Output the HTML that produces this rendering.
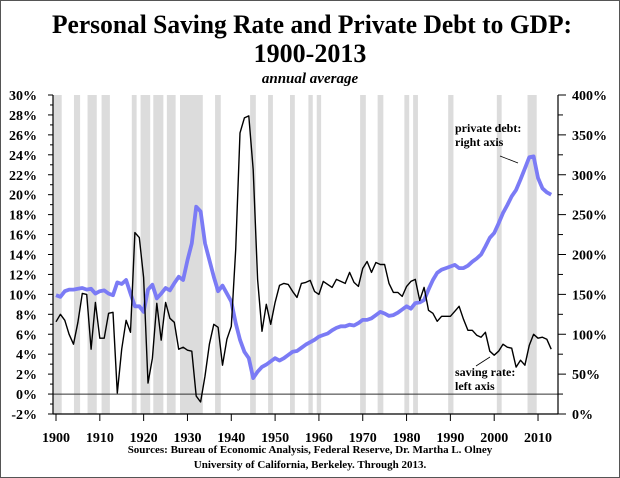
<!DOCTYPE html>
<html><head><meta charset="utf-8"><style>
body{margin:0;background:#fff}
#wrap{position:relative;width:620px;height:478px;overflow:hidden}
svg text{font-family:"Liberation Serif",serif;font-weight:bold}
</style></head><body>
<div id="wrap">
<svg id="c" width="620" height="478" viewBox="0 0 620 478">
<rect x="0.5" y="0.5" width="619" height="477" fill="#fff" stroke="#555"/>
<text x="312" y="33" text-anchor="middle" font-size="26" textLength="520" lengthAdjust="spacingAndGlyphs">Personal Saving Rate and Private Debt to GDP:</text>
<text x="310" y="62" text-anchor="middle" font-size="26">1900-2013</text>
<text x="310" y="83" text-anchor="middle" font-size="15" font-style="italic">annual average</text>
<g id="bars"></g><g id="axes"></g><g id="lines"></g>
<text x="455" y="132" font-size="12">private debt:</text>
<text x="455" y="146" font-size="12">right axis</text>
<line x1="500" y1="156" x2="518" y2="163" stroke="#000" stroke-width="0.8"/>
<text x="455" y="376" font-size="12">saving rate:</text>
<text x="455" y="390" font-size="12">left axis</text>
<line x1="476" y1="366" x2="490" y2="357" stroke="#000" stroke-width="0.8"/>
<text x="310" y="453" text-anchor="middle" font-size="11">Sources: Bureau of Economic Analysis, Federal Reserve, Dr. Martha L. Olney</text>
<text x="310" y="468" text-anchor="middle" font-size="11">University of California, Berkeley. Through 2013.</text>
</svg></div>
<script>
const years=[];for(let y=1900;y<=2013;y++)years.push(y);
const savingRate=[7.25,8.0,7.4,6.0,5.0,7.2,10.1,10.0,4.5,9.2,5.6,5.6,8.1,8.2,0.1,4.5,7.4,6.2,16.2,15.7,11.7,1.1,3.6,9.1,5.4,9.2,7.6,7.2,4.5,4.7,4.4,4.3,-0.2,-0.8,1.8,5.0,7.0,6.7,2.9,5.5,6.8,14.5,26.2,27.7,27.9,22.5,11.5,6.3,9.0,7.0,9.2,10.9,11.1,11.0,10.3,9.7,11.1,11.2,11.4,10.3,10.0,11.3,11.0,10.7,11.5,11.3,11.1,12.2,11.2,10.8,12.6,13.3,12.2,13.2,13.0,13.0,11.1,10.2,10.2,9.8,10.8,11.3,11.5,9.4,10.7,8.4,8.1,7.3,7.8,7.8,7.8,8.3,8.8,7.5,6.4,6.4,5.9,5.7,6.2,4.3,3.9,4.3,5.0,4.7,4.6,2.7,3.4,2.9,4.9,6.0,5.6,5.7,5.5,4.5];
const debtToGdp=[149,147,154,156,156,157,158,156,157,151,154,155,151,149,165,163,168,151,135,135,128,156,162,145,151,158,155,164,172,168,193,214,260,254,214,193,172,154,161,151,141,114,93,78,70,45,53,59,62,66,70,67,70,74,78,79,83,87,90,93,97,99,101,105,108,110,110,112,111,114,118,118,120,124,128,126,123,124,127,131,135,132,139,140,143,156,168,177,181,183,185,187,183,183,186,191,195,200,210,221,227,239,252,262,273,281,294,308,322,323,296,283,278,275];
const recStart=[1899.4,1904.1,1907.2,1910.4,1917.3,1919.3,1922.2,1925.3,1928.3,1936.3,1944.3,1948.4,1953.4,1957.6,1959.5,1969.4,1973.4,1979.5,1981.5,1989.5,2000.6,2007.6];
const recEnd=[1901.3,1905.5,1909.3,1912.3,1918.4,1921.5,1924.5,1927.3,1933.5,1937.6,1945.6,1949.5,1954.5,1958.6,1960.5,1970.7,1974.7,1980.6,1982.6,1990.7,2001.7,2009.7];
const leftTicks=[-2,0,2,4,6,8,10,12,14,16,18,20,22,24,26,28,30];
const rightTicks=[0,50,100,150,200,250,300,350,400];
const xTicks=[1900,1910,1920,1930,1940,1950,1960,1970,1980,1990,2000,2010];
const L=53,R=558,T=95,B=414;
const xs=y=>56+(y-1900)*4.382;
const yl=v=>B-(v+2)*(B-T)/32;
const yr=v=>B-v*(B-T)/400;
const NS='http://www.w3.org/2000/svg';
function mk(p,tag,a){const e=document.createElementNS(NS,tag);for(const k in a)e.setAttribute(k,a[k]);p.appendChild(e);return e;}
const bars=document.getElementById('bars'),ax=document.getElementById('axes'),ln=document.getElementById('lines');
recStart.forEach((s,i)=>{const x0=Math.max(L,xs(s));
 const r=mk(bars,'rect',{x:x0,y:T,width:xs(recEnd[i])-x0,height:B-T,fill:'#dcdcdc'});
 
 });
let e=mk(ax,'line',{x1:L,y1:yl(0),x2:R,y2:yl(0),stroke:'#333','stroke-width':1});

e=mk(ax,'line',{x1:L,y1:T,x2:L,y2:B,stroke:'#000','stroke-width':1.2});

e=mk(ax,'line',{x1:R,y1:T,x2:R,y2:B,stroke:'#000','stroke-width':1.2});

e=mk(ax,'line',{x1:L,y1:B,x2:R,y2:B,stroke:'#000','stroke-width':1.2});

for(let v=-2;v<=30;v+=1){mk(ax,'line',{x1:L-(v%2?3:5),y1:yl(v),x2:L,y2:yl(v),stroke:'#000'});}
leftTicks.forEach(v=>{const t=mk(ax,'text',{x:37,y:yl(v)+5,'text-anchor':'end','font-size':14});t.textContent=v+'%';
 });
for(let v=0;v<=400;v+=25){mk(ax,'line',{x1:R,y1:yr(v),x2:R+(v%50?5:8),y2:yr(v),stroke:'#000'});}
rightTicks.forEach(v=>{const t=mk(ax,'text',{x:572,y:yr(v)+5,'font-size':14});t.textContent=v+'%';
 });
xTicks.forEach(v=>{mk(ax,'line',{x1:xs(v),y1:B,x2:xs(v),y2:B+7,stroke:'#000'});
 const t=mk(ax,'text',{x:xs(v),y:442,'text-anchor':'middle','font-size':14});t.textContent=v;
 });
const dp=years.map((y,i)=>(i?'L':'M')+xs(y).toFixed(1)+','+yr(debtToGdp[i]).toFixed(1)).join('');
e=mk(ln,'path',{d:dp,fill:'none',stroke:'#7b7bf5','stroke-width':3.8,'stroke-linejoin':'round'});

const sp=years.map((y,i)=>(i?'L':'M')+xs(y).toFixed(1)+','+yl(savingRate[i]).toFixed(1)).join('');
e=mk(ln,'path',{d:sp,fill:'none',stroke:'#000','stroke-width':1.4,'stroke-linejoin':'round'});

</script>
</body></html>
